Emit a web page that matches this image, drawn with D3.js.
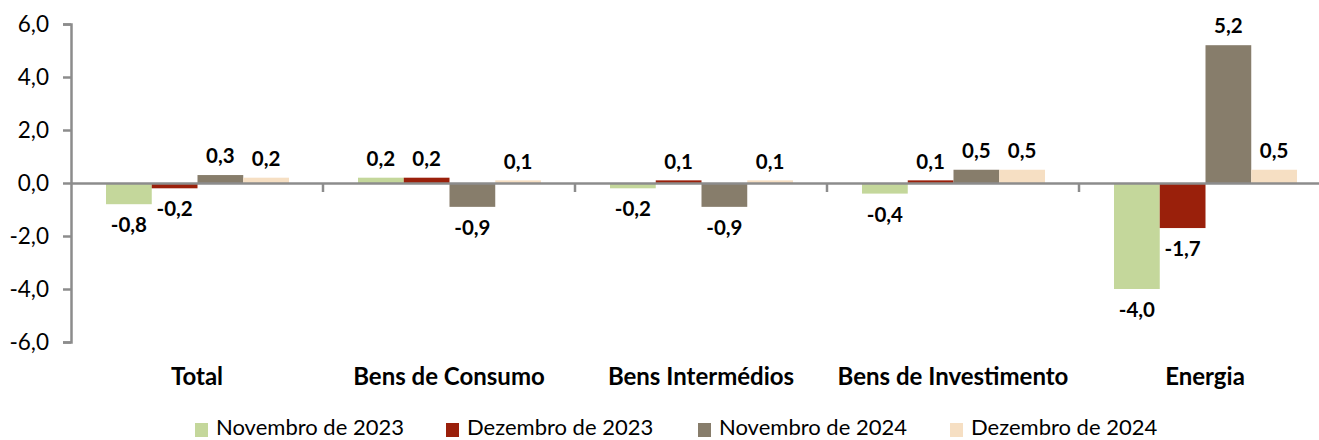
<!DOCTYPE html>
<html><head><meta charset="utf-8">
<script src="https://cdn.jsdelivr.net/npm/d3@7"></script>
<style>
body{margin:0;background:#fff;}
text{font-family:Lato,"Open Sans",sans-serif;}
</style></head>
<body><svg id="c" width="1319" height="440"></svg>
<script>
const categories = ["Total","Bens de Consumo","Bens Intermédios","Bens de Investimento","Energia"];
const seriesNames = ["Novembro de 2023","Dezembro de 2023","Novembro de 2024","Dezembro de 2024"];
const nov2023 = [-0.8, 0.2, -0.2, -0.4, -4.0];
const dez2023 = [-0.2, 0.2, 0.1, 0.1, -1.7];
const nov2024 = [0.3, -0.9, -0.9, 0.5, 5.2];
const dez2024 = [0.2, 0.1, 0.1, 0.5, 0.5];
const yTicks = [-6,-4,-2,0,2,4,6];
const colors = ["#c4d79b","#9a200b","#877d6b","#f6dfc3"];
const seriesValues = [nov2023, dez2023, nov2024, dez2024];

const svg = d3.select("#c");
const mLeft = 71, mRight = 1331, mTop = 24, mBottom = 342;
const y = d3.scaleLinear().domain([-6,6]).range([mBottom, mTop]);
const x0 = d3.scaleBand().domain(categories).range([mLeft, mRight]).padding(0);
const x1 = d3.scaleBand().domain(d3.range(4)).range([35, 218]).padding(0);
const fmt = v => d3.format(".1f")(v).replace(".", ",").replace("−","-");

// y axis
const ya = svg.append("g").attr("transform",`translate(${mLeft},0)`)
  .call(d3.axisLeft(y).tickValues(yTicks).tickSize(8).tickPadding(14).tickFormat(fmt));
ya.select(".domain").attr("stroke","#8c8c8c").attr("stroke-width",2.5);
ya.selectAll(".tick line").attr("stroke","#8c8c8c").attr("stroke-width",2.5);
ya.selectAll(".tick text").attr("font-size",22.5).attr("fill","#000").style("font-family","Lato");

// bars
categories.forEach((c,ci)=>{
  seriesValues.forEach((vals,si)=>{
    const v = vals[ci];
    svg.append("rect")
      .attr("x", x0(c)+x1(si)).attr("width", x1.bandwidth())
      .attr("y", y(Math.max(0,v))).attr("height", Math.abs(y(v)-y(0)))
      .attr("fill", colors[si]);
    svg.append("text")
      .attr("x", x0(c)+x1(si)+x1.bandwidth()/2)
      .attr("y", v>=0 ? y(v)-19 : y(v)+21)
      .attr("dy","0.35em").attr("text-anchor","middle")
      .attr("font-size",20.5).attr("font-weight","bold").attr("fill","#000")
      .text(fmt(v));
  });
});

// x axis at zero
const xa = svg.append("g").attr("transform",`translate(0,${y(0)})`)
  .call(d3.axisBottom(x0).tickSize(0).tickFormat(""));
xa.select(".domain").attr("stroke","#8c8c8c").attr("stroke-width",2.5);
xa.selectAll(".tick").remove();
categories.slice(1).forEach(c=>{
  xa.append("line").attr("x1",x0(c)).attr("x2",x0(c)).attr("y1",0).attr("y2",9)
    .attr("stroke","#8c8c8c").attr("stroke-width",2.5);
});
// category labels
svg.append("g").selectAll("text").data(categories).join("text")
  .attr("x", d=>x0(d)+x0.bandwidth()/2).attr("y",377).attr("dy","0.35em")
  .attr("text-anchor","middle").attr("font-size",24).attr("font-weight","bold").text(d=>d);

// legend
const legX = [195, 446, 698, 950];
const lg = svg.append("g");
seriesNames.forEach((n,i)=>{
  lg.append("rect").attr("x",legX[i]).attr("y",423).attr("width",13).attr("height",14).attr("fill",colors[i]);
  lg.append("text").attr("x",legX[i]+21).attr("y",435).attr("font-size",22).text(n);
});
</script></body></html>
